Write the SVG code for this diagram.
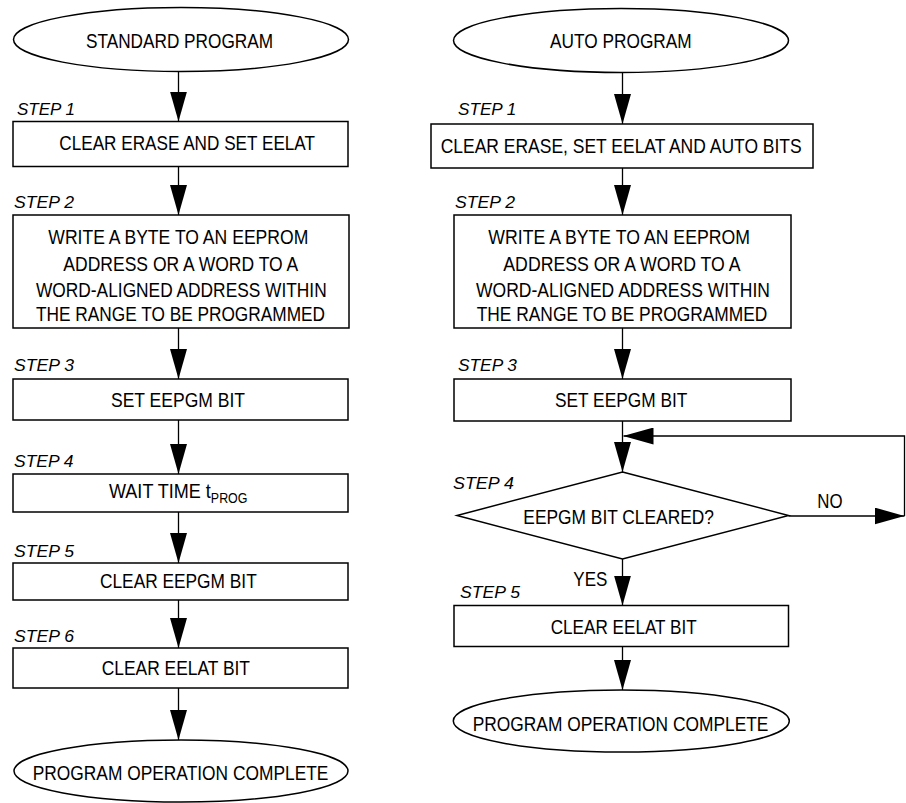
<svg xmlns="http://www.w3.org/2000/svg" width="906" height="803" viewBox="0 0 906 803">
<style>
.shape{fill:#fff;stroke:#000;stroke-width:1.5}
.t{font-family:"Liberation Sans",Arial,sans-serif;font-size:21px;fill:#000}
.sub{font-size:14.5px}
.step{font-family:"Liberation Sans",Arial,sans-serif;font-size:16.5px;font-style:italic;fill:#000}
.conn{fill:none;stroke:#000;stroke-width:1.3}
</style>
<defs>
<marker id="arr" markerUnits="userSpaceOnUse" markerWidth="30" markerHeight="17" refX="30" refY="8.5" orient="auto" viewBox="0 0 30 17">
<path d="M0,0 L30,8.5 L0,17 Z" fill="#000"/>
</marker>
</defs>
<rect width="906" height="803" fill="#fff"/>

<g id="connectors">
<line class="conn" x1="178.5" y1="72" x2="178.5" y2="121.5" marker-end="url(#arr)"/>
<line class="conn" x1="178.5" y1="166.5" x2="178.5" y2="215" marker-end="url(#arr)"/>
<line class="conn" x1="178.5" y1="328" x2="178.5" y2="379" marker-end="url(#arr)"/>
<line class="conn" x1="178.5" y1="420" x2="178.5" y2="474" marker-end="url(#arr)"/>
<line class="conn" x1="178.5" y1="512" x2="178.5" y2="563" marker-end="url(#arr)"/>
<line class="conn" x1="178.5" y1="600" x2="178.5" y2="648" marker-end="url(#arr)"/>
<line class="conn" x1="178.5" y1="688" x2="178.5" y2="740" marker-end="url(#arr)"/>

<line class="conn" x1="622.5" y1="72.5" x2="622.5" y2="124" marker-end="url(#arr)"/>
<line class="conn" x1="622.5" y1="168" x2="622.5" y2="215" marker-end="url(#arr)"/>
<line class="conn" x1="622.5" y1="328" x2="622.5" y2="379" marker-end="url(#arr)"/>
<line class="conn" x1="622.5" y1="421" x2="622.5" y2="472" marker-end="url(#arr)"/>
<line class="conn" x1="622.5" y1="559" x2="622.5" y2="605.5" marker-end="url(#arr)"/>
<line class="conn" x1="622.5" y1="646.5" x2="622.5" y2="690" marker-end="url(#arr)"/>
<line class="conn" x1="788.5" y1="516" x2="904.5" y2="516" marker-end="url(#arr)"/>
<polyline class="conn" points="904.5,516 904.5,436 623.5,436" marker-end="url(#arr)"/>
<text class="t" x="817.3" y="508.3" textLength="25.3" lengthAdjust="spacingAndGlyphs">NO</text>
<text class="t" x="573.3" y="585.7" textLength="34" lengthAdjust="spacingAndGlyphs">YES</text>
</g>

<!-- Left column -->
<g id="std-start">
<ellipse class="shape" cx="181" cy="39.5" rx="167.5" ry="32"/>
<text class="t" x="86" y="48.3" textLength="187" lengthAdjust="spacingAndGlyphs">STANDARD PROGRAM</text>
</g>
<g id="std-step1">
<text class="step" x="17" y="115" textLength="58" lengthAdjust="spacingAndGlyphs">STEP 1</text>
<rect class="shape" x="13" y="121.5" width="335" height="45"/>
<text class="t" x="59.3" y="150" textLength="255.7" lengthAdjust="spacingAndGlyphs">CLEAR ERASE AND SET EELAT</text>
</g>
<g id="std-step2">
<text class="step" x="14" y="208" textLength="60" lengthAdjust="spacingAndGlyphs">STEP 2</text>
<rect class="shape" x="13" y="215" width="336" height="113"/>
<text class="t" x="48.3" y="244.3" textLength="260" lengthAdjust="spacingAndGlyphs">WRITE A BYTE TO AN EEPROM</text>
<text class="t" x="63.3" y="271.2" textLength="235" lengthAdjust="spacingAndGlyphs">ADDRESS OR A WORD TO A</text>
<text class="t" x="36" y="296.5" textLength="290.7" lengthAdjust="spacingAndGlyphs">WORD-ALIGNED ADDRESS WITHIN</text>
<text class="t" x="36" y="320.7" textLength="289" lengthAdjust="spacingAndGlyphs">THE RANGE TO BE PROGRAMMED</text>
</g>
<g id="std-step3">
<text class="step" x="14" y="371" textLength="60" lengthAdjust="spacingAndGlyphs">STEP 3</text>
<rect class="shape" x="13" y="379" width="335" height="41"/>
<text class="t" x="111" y="406.7" textLength="134" lengthAdjust="spacingAndGlyphs">SET EEPGM BIT</text>
</g>
<g id="std-step4">
<text class="step" x="14" y="466.7" textLength="59.5" lengthAdjust="spacingAndGlyphs">STEP 4</text>
<rect class="shape" x="13" y="474" width="335" height="38"/>
<text class="t" x="109" y="498" textLength="138.5" lengthAdjust="spacingAndGlyphs">WAIT TIME t<tspan class="sub" dy="4.5">PROG</tspan></text>
</g>
<g id="std-step5">
<text class="step" x="14" y="556.7" textLength="60" lengthAdjust="spacingAndGlyphs">STEP 5</text>
<rect class="shape" x="13" y="563" width="335" height="37"/>
<text class="t" x="100" y="587.7" textLength="156.7" lengthAdjust="spacingAndGlyphs">CLEAR EEPGM BIT</text>
</g>
<g id="std-step6">
<text class="step" x="14" y="641.7" textLength="60" lengthAdjust="spacingAndGlyphs">STEP 6</text>
<rect class="shape" x="13" y="648" width="335" height="40"/>
<text class="t" x="101.7" y="675" textLength="148.3" lengthAdjust="spacingAndGlyphs">CLEAR EELAT BIT</text>
</g>
<g id="std-end">
<ellipse class="shape" cx="181" cy="771" rx="167" ry="31"/>
<text class="t" x="32.7" y="780" textLength="295.7" lengthAdjust="spacingAndGlyphs">PROGRAM OPERATION COMPLETE</text>
</g>

<!-- Right column -->
<g id="auto-start">
<ellipse class="shape" cx="621" cy="40.5" rx="167.5" ry="32"/>
<text class="t" x="550" y="48.3" textLength="141.7" lengthAdjust="spacingAndGlyphs">AUTO PROGRAM</text>
</g>
<g id="auto-step1">
<text class="step" x="458" y="115" textLength="58.4" lengthAdjust="spacingAndGlyphs">STEP 1</text>
<rect class="shape" x="431" y="124" width="382" height="44"/>
<text class="t" x="440.7" y="153.3" textLength="361" lengthAdjust="spacingAndGlyphs">CLEAR ERASE, SET EELAT AND AUTO BITS</text>
</g>
<g id="auto-step2">
<text class="step" x="455" y="208.3" textLength="60" lengthAdjust="spacingAndGlyphs">STEP 2</text>
<rect class="shape" x="454" y="215" width="337" height="113"/>
<text class="t" x="488.3" y="244.3" textLength="261.7" lengthAdjust="spacingAndGlyphs">WRITE A BYTE TO AN EEPROM</text>
<text class="t" x="503.3" y="271.2" textLength="237.3" lengthAdjust="spacingAndGlyphs">ADDRESS OR A WORD TO A</text>
<text class="t" x="476" y="296.5" textLength="294" lengthAdjust="spacingAndGlyphs">WORD-ALIGNED ADDRESS WITHIN</text>
<text class="t" x="476.7" y="320.7" textLength="290.7" lengthAdjust="spacingAndGlyphs">THE RANGE TO BE PROGRAMMED</text>
</g>
<g id="auto-step3">
<text class="step" x="458" y="371" textLength="59" lengthAdjust="spacingAndGlyphs">STEP 3</text>
<rect class="shape" x="454" y="379" width="337" height="42"/>
<text class="t" x="555" y="406.7" textLength="132.3" lengthAdjust="spacingAndGlyphs">SET EEPGM BIT</text>
</g>
<g id="auto-step4">
<text class="step" x="453" y="489.3" textLength="61" lengthAdjust="spacingAndGlyphs">STEP 4</text>
<polygon class="shape" points="622.5,472 788.5,515.5 622.5,559 457,515.5"/>
<text class="t" x="523.3" y="524.3" textLength="190.7" lengthAdjust="spacingAndGlyphs">EEPGM BIT CLEARED?</text>
</g>
<g id="auto-step5">
<text class="step" x="460" y="598.3" textLength="60" lengthAdjust="spacingAndGlyphs">STEP 5</text>
<rect class="shape" x="454" y="605.5" width="334.5" height="41"/>
<text class="t" x="550.7" y="634" textLength="146" lengthAdjust="spacingAndGlyphs">CLEAR EELAT BIT</text>
</g>
<g id="auto-end">
<ellipse class="shape" cx="621.3" cy="721" rx="168" ry="31"/>
<text class="t" x="472.7" y="730.7" textLength="295.7" lengthAdjust="spacingAndGlyphs">PROGRAM OPERATION COMPLETE</text>
</g>
</svg>
